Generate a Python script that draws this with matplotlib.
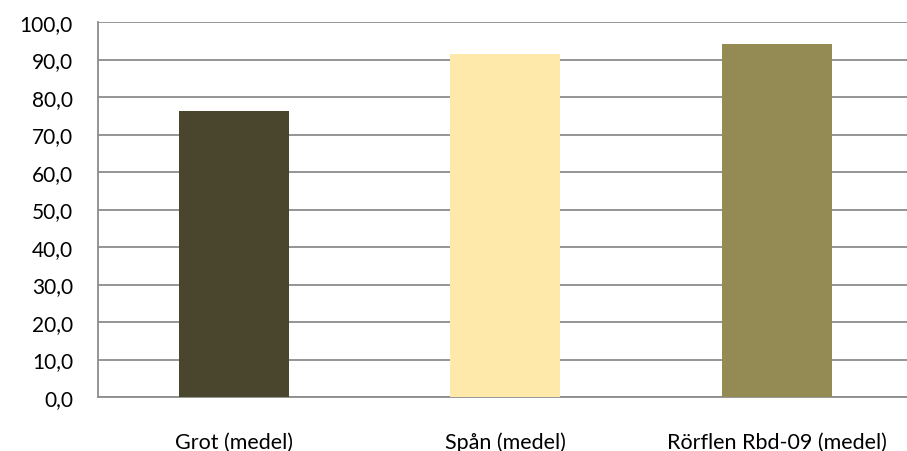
import matplotlib.pyplot as plt
from matplotlib.ticker import FuncFormatter

plt.rcParams['font.family'] = ['Lato', 'DejaVu Sans']

# data
categories = ['Grot (medel)', 'Spån (medel)', 'Rörflen Rbd-09 (medel)']
values = [76.3, 91.5, 94.1]
colors = ['#4A452D', '#FFE9AA', '#948A54']

fig = plt.figure(figsize=(9.07, 4.52), dpi=100)
ax = fig.add_axes([98/907, 54/452, (907-98)/907, 375/452])

x = range(len(categories))
ax.bar(x, values, width=0.405, color=colors, zorder=3)

ax.set_ylim(0, 100)
ax.set_yticks(range(0, 101, 10))
ax.yaxis.set_major_formatter(FuncFormatter(lambda v, p: f'{v:.1f}'.replace('.', ',')))
ax.set_xlim(-0.5, 2.478)
ax.set_xticks(list(x))
ax.set_xticklabels(categories)

ax.grid(axis='y', color='#8C8C8C', linewidth=1.3, zorder=0)
for s in ['top', 'right']:
    ax.spines[s].set_visible(False)
for s in ['left', 'bottom']:
    ax.spines[s].set_color('#8C8C8C')
    ax.spines[s].set_linewidth(1.3)

ax.tick_params(axis='y', length=0, pad=18, labelsize=15)
ax.tick_params(axis='x', length=0, pad=25, labelsize=15.5)

plt.savefig('out.png', dpi=100)
